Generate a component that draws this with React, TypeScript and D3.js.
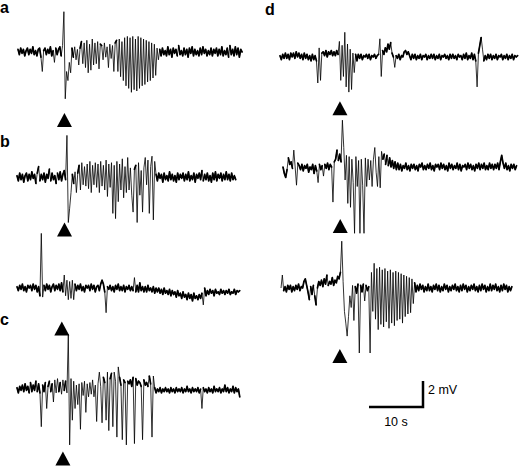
import React from 'react';
import * as d3 from 'd3';

// sample interval of every trace (s)
const DT = 0.25;

// traces, values in mV, one sample every DT seconds
const traceA = [
  0.2, -0.2, 0.3, -0.1, 0.2, -0.3, 0.1, 0.3, -0.2, 0.2,
  -0.1, 0.4, -0.2, 0.1, -0.3, 0.2, 0.3, -0.4, -1.5, 0.1,
  0.3, -0.2, 0.2, -0.1, 0.4, -0.3, 0.1, -0.8, 0.3, -0.2,
  0.2, 0.4, -0.3, 0.5,
  3.1, -3.6, -1.5, -2.2, -0.8, -1.6, 0.3, -0.4,
  0.4, -0.6, 0.2, -1.0, 0.3,
  0.8, -0.9, 0.7, -1.2, 0.9, -1.6, 0.6, -1.4, 1.0, -1.0, 0.7, -0.9, 0.8, -1.3, 0.6,
  0.5, -0.6, 0.7, -0.4, 0.4, -1.2, 0.6, -0.5, 0.5, -1.5, 0.7,
  0.9, -1.5, 1.0, -1.9, 0.8, -2.2, 1.1, -2.6, 1.2, -2.8, 1.1, -3.1, 1.2, -2.9, 1.0, -3.0,
  1.2, -2.8, 1.1, -2.6, 1.0, -2.5, 0.9, -2.3, 0.8, -2.2, 0.7, -2.0, 0.6, -1.8, 0.3, -0.6,
  0.2, -0.3, 0.3, -0.2, 0.1, -0.3, 0.4, -0.2, 0.2, -0.4,
  0.3, -0.1, 0.2, -0.3, 0.5, -0.2, 0.1, -0.3, 0.3, -0.2,
  0.2, -0.4, 0.3, -0.1, 0.4, -0.3, 0.2, -0.2, 0.1, -0.3,
  0.3, -0.2, 0.4, -0.1, 0.2, -0.3, 0.1, -0.2, 0.3, -0.3,
  0.2, -0.1, 0.3, -0.3, 0.2, -0.2, 0.4, -0.3, 0.1, -0.2,
  0.3, -0.4, 0.5, -0.2, 0.2, -0.3, 0.4, -0.2, 0.3, -0.4,
  0.2, 0.0,
];

const traceB1 = [
  0.1, -0.3, 0.3, -0.2, 0.2, -0.4, 0.1, 0.3, -0.3, 0.2,
  -0.2, 0.4, -0.1, 0.2, -0.5, 0.3, 0.8, -0.3, 0.2, -0.2,
  0.3, -0.4, 0.2, -0.1, 0.6, -0.3, 0.3, -0.2, 0.1, -0.5,
  0.3, -0.2, 0.4, -0.3, 0.2, 0.5, -0.2,
  3.2, -3.5, -2.4, -1.2, 0.2, -0.5,
  0.4, -1.2, 0.3,
  0.9, -1.0, 1.1, -0.6, 0.8, -0.7, 1.0, -0.9, 1.2, -1.2, 0.9, -0.6, 1.1, -0.8,
  1.0, -1.2, 1.2, -0.7, 0.9, -1.0, 1.3, -1.5, 1.0, -0.8, 1.1, -2.8, 0.9,
  -3.2, 1.2, -1.9, 1.0, -1.0, 1.4, -1.6, 0.8, -1.2, 1.5,
  -1.0, 0.7, -1.4, -2.7, 0.6, 0.9, -3.5, 1.1, -1.4, 0.5,
  -2.7, 0.7, 1.5, -0.6, 1.3, -2.8, 0.8, 1.6, -3.3, 1.2,
  0.2, -0.3, 0.3, -0.1, 0.2, -0.4, 0.3, -0.2, 0.1, -0.3,
  0.4, -0.2, 0.2, -0.3, 0.1, -0.4, 0.3, -0.2, 0.2, -0.1,
  0.3, -0.3, 0.2, -0.2, 0.4, -0.3, 0.1, -0.2, 0.3, -0.4,
  0.2, -0.1, 0.3, -0.2, 0.5, -0.3, 0.2, -0.2, 0.3, -0.3,
  0.1, -0.4, 0.3, -0.2, 0.4, -0.3, 0.2, -0.1, 0.3, -0.3,
  0.2, -0.2, 0.4, -0.2, 0.2, -0.3, 0.3, -0.2, 0.1, -0.2,
];

const traceB2 = [
  0.1, -0.2, 0.2, -0.1, 0.3, -0.2, 0.1, -0.3, 0.2, 0.0, 0.2, -0.2, 0.3, -0.1, 0.2, -0.3, 0.1, -0.6,
  4.2, -0.7, 0.2,
  -0.2, 0.3, -0.1, 0.2, -0.3, 0.1, 0.3, -0.2, 0.2, -0.1, 0.3, -0.2, 0.4, -0.3,
  1.0, -0.6,
  0.6, -0.9, 0.5, -0.8, 0.6, -0.9, 0.3,
  -0.2, 0.2, -0.1, 0.3, -0.2, 0.1, -0.3, 0.2, 0.0, 0.2, -0.2, 0.3, -0.1, 0.2, -0.3, 0.1, 0.2, -0.2, 0.3,
  0.6, 0.3, -0.3, -1.9, 0.1,
  -0.1, 0.2, -0.2, 0.1, -0.3, 0.2, -0.1, 0.3, -0.2, 0.1, -0.2, 0.2, -0.3, 0.1, -0.1, 0.2, -0.2, 0.1, -0.2,
  0.8, -0.3,
  0.2, -0.3, 0.4, -0.2, 0.1, -0.3,
  0.1, -0.3, 0.2, -0.2, 0.0, -0.3, 0.1, -0.4, 0.0, -0.3,
  0.0, -0.4, -0.1, -0.5, 0.0, -0.4, -0.2, -0.5, -0.1, -0.6,
  -0.2, -0.5, -0.3, -0.7, -0.2, -0.6, -0.4, -0.8, -0.3, -0.7,
  -0.5, -0.9, -0.4, -0.8, -0.5, -1.0, -0.4, -0.8, -0.6, -0.9,
  -0.5, -0.8, -0.4,
  -1.3, 0.0, -0.6,
  -0.2, -0.5, -0.1, -0.4, -0.2, -0.6, -0.1, -0.4, -0.3, -0.5, -0.1, -0.4, -0.2,
  -0.5, -0.2, -0.4, -0.1, -0.5, -0.3, -0.4, -0.1, -0.5, -0.2, -0.3, -0.2,
];

const traceC = [
  0.1, -0.3, 0.2, -0.1, 0.3, -0.2, 0.4, -0.1, 0.2, -0.3, 0.5, -0.2, 0.3, -0.1, 0.6, -0.2, 0.4, -0.3,
  -2.9, 0.3, -0.2, 0.5, -1.5, 0.2,
  0.6, -0.2, 0.4, -1.0, 0.7, -0.3,
  0.8, -0.2, 0.5, -0.4, 0.7, -0.1, 0.6, -0.3,
  4.2, -4.3, 0.8, -2.4, 0.6, -1.5, 0.3, -1.2,
  0.4, -3.1, 0.5,
  -0.5, 0.6, -1.8, 0.4, -0.6, 0.5, -0.4, 0.7, -0.6, 0.3, -2.5, 0.4, 1.3,
  0.2, -2.6, 0.9, 0.5, -2.4, 1.3, -3.2, 0.8, 1.2, -2.9,
  1.3, 0.6, -3.7, 1.7, 0.9, 0.3, -3.9, 0.7, 0.5, -4.3,
  0.6, 0.4, 0.7, 0.2, 0.9, -4.2, 0.8, 0.3, 0.6, 0.5,
  0.2, -3.9, 0.7, 0.3, 0.5, 0.2, 1.0, 0.4, -3.7, 1.0,
  0.1, -0.3, 0.0, -0.2, 0.1, -0.3, 0.0, -0.2, 0.1, -0.2,
  0.0, -0.3, 0.1, -0.2, 0.0, -0.3, 0.1, -0.2, 0.0, -0.2,
  0.1, -0.3, 0.0, -0.2, 0.2, -0.2, 0.0, -0.3, 0.1, -0.2,
  0.0, -0.2, 0.1, -0.3, 0.0, -1.5, 0.1, -0.2, 0.0, -0.3,
  0.1, -0.2, 0.0, -0.3, 0.2, -0.2, 0.0, -0.2, 0.1, -0.3,
  0.0, -0.2, 0.3, -0.2, 0.1, -0.3, 0.0, -0.2, 0.2, -0.3,
  0.1, -0.2, 0.0, -0.6,
];

const traceD1 = [
  0.1, -0.2, 0.2, -0.1, 0.3, -0.1, 0.2, -0.2, 0.3, 0.0, 0.3, -0.1, 0.4, 0.0,
  0.3, -0.1, 0.2, -0.2, 0.3, -0.1, 0.2, -0.2, 0.1, -0.3, 0.2, -0.2, 0.1, -0.3,
  -2.0, 0.7, -1.8, 0.3,
  0.4, 0.1, 0.5, 0.0, 0.4, 0.2, 0.5, 0.1, 0.4, 0.1, 0.5, 0.2,
  1.2, -1.8, 0.9, -1.5, 1.9, -2.3, 1.0, -2.7, 0.6, -2.5, 0.3, -1.2, 0.2,
  -0.3, 0.2, -0.1, 0.2, -0.2, 0.1, 0.0, 0.2, -0.1, 0.2, -0.2, 0.1, 0.0, 0.2, -0.1, 0.1,
  0.2, 1.4, -1.5, 0.5, 0.2, 0.7, 0.4, 1.0, 0.6, 1.1, 0.3, 0.0, -0.8, 0.1,
  -0.1, 0.2, -0.2, 0.1, 0.0, 0.4, 0.5, 0.2, 0.4, 0.1,
  -0.2, 0.2, -0.1, 0.2, -0.2, 0.1, -0.1, 0.2, -0.2, 0.1,
  0.0, 0.2, -0.2, 0.1, -0.1, 0.2, -0.1, 0.2, -0.2, 0.1,
  -0.1, 0.2, -0.2, 0.1, 0.0, 0.2, -0.1, 0.1, -0.2, 0.2,
  -0.1, 0.2, -0.1, 0.1, -0.2, 0.2, 0.0, 0.1, -0.2, 0.2,
  -0.1, 0.3, -0.2, 0.1, -0.1, 0.3, -0.2, 0.2, -0.3,
  -2.3, 0.3, 0.9, 1.5, 0.6, -0.3, 0.1,
  -0.2, 0.2, -0.1, 0.2, -0.2, 0.1, -0.1, 0.2, -0.2, 0.1, 0.0, 0.2,
  -0.2, 0.1, -0.1, 0.2, -0.2, 0.1, -0.1, 0.2, -0.2, 0.1, 0.0, 0.1,
];

const traceD2 = [
  0.0, -0.5, -0.8, -0.2,
  0.7, 0.2, 0.4, -0.1,
  1.3, 0.0, -1.4, 0.3,
  0.1, -0.2, 0.2, -0.3, 0.1, -0.1, 0.2, -0.4, 0.0, -0.2, 0.2, -0.5, 0.1, -0.3,
  -1.2, 0.2,
  -0.2, 0.1, -0.7, 0.2, -0.1, 0.3, -0.2, 0.2, 0.0,
  -2.7, 0.4, 0.6, 1.3, 0.5, 1.0, 0.4, 3.6, 1.5, -1.0,
  0.9, -2.8, 0.8, -3.1, 0.6, -1.2, -5.1, 0.8, -1.5, 0.5,
  -5.1, 0.6, -1.4, -5.1, 0.7, -1.5, 0.6, -1.0, 0.5, -1.5,
  0.6, 1.5, -0.4, -1.5, 0.8, -1.6, 1.2, 0.6, 1.0, 0.2,
  0.9, 0.1, 0.7, 0.0, 0.5, -0.1, 0.4, -0.2, 0.3,
  -0.2, 0.2, -0.3, 0.1, -0.1, 0.3, -0.2, 0.1, -0.3, 0.2,
  -0.1, 0.2, -0.2, 0.1, -0.3, 0.2, 0.0, 0.3, -0.2, 0.1,
  -0.2, 0.2, -0.1, 0.3, -0.2, 0.1, -0.3, 0.2, 0.0, 0.2,
  -0.2, 0.3, -0.1, 0.2, -0.2, 0.1, -0.3, 0.3, -0.1, 0.2,
  -0.2, 0.1, -0.1, 0.3, -0.2, 0.2, -0.3, 0.1, 0.0, 0.2,
  -0.2, 0.3, -0.1, 0.2, -0.2, 0.1, -0.3, 0.2, -0.1, 0.3,
  -0.2, 0.2, -0.1, 0.3, -0.2, 0.1, -0.2, 0.3, -0.1, 0.2,
  -0.2, 0.2, -0.1, 0.3, -0.2, 0.4, 0.9, 0.3, -0.1, 0.3,
  -0.2, 0.1, -0.3, 0.2, -0.1, 0.2, -0.2, 0.1,
];

const traceD3 = [
  0.0, 1.0, -0.2,
  0.1, -0.3, 0.2, -0.1, 0.2, -0.3, 0.1, -0.2, 0.2, -0.1, 0.3, -0.2, 0.1, 0.0,
  0.5, 0.7, 0.2, -0.3,
  -0.9, 0.1, -0.5, 0.2, -0.6, -1.3, 0.0,
  0.5, 0.2, 0.6, 0.1, 0.7, 0.3, 1.0, 0.2, 0.5, 0.3, 0.8, 0.2, 0.6, 0.4, 0.9, 0.7, 1.2,
  3.6, 0.5, -1.8, -2.7, -3.7, -2.2, -0.6, -1.5, 0.2, -2.5, 0.1,
  -0.4, 0.3, -5.0, 0.2, -0.3, 0.3, -1.0, 0.2, -0.2, 0.1, -5.0,
  1.2, -1.8, 1.9, -2.4, 1.5, -3.2, 1.6, -2.8, 1.4, -3.0, 1.5, -2.6, 1.3, -3.1, 1.4, -2.7, 1.2,
  -2.9, 1.3, -2.5, 1.2, -2.4, 1.1, -2.7, 1.0, -2.2, 0.9, -2.0, 0.8, -1.9, 0.7, -1.2, 0.4, -0.3,
  0.2, -0.2, 0.3, -0.1, 0.2, -0.3, 0.1, -0.2, 0.3, -0.2,
  0.1, -0.3, 0.2, -0.1, 0.3, -0.2, 0.2, -0.3, 0.1, -0.2,
  0.3, -0.1, 0.2, -0.3, 0.1, -0.2, 0.2, -0.1, 0.3, -0.2,
  0.1, -0.3, 0.2, -0.2, 0.3, -0.1, 0.2, -0.3, 0.1, -0.2,
  0.2, -0.1, 0.3, -0.2, 0.1, -0.3, 0.2, -0.2, 0.3, -0.1,
  0.2, -0.3, 0.1, -0.2, 0.3, -0.2, 0.2, -0.1, 0.3, -0.2,
  0.1, -0.3, 0.2, -0.2, 0.3, -0.1, 0.2, -0.3, 0.1, -0.2,
  0.1,
];

// onset markers: time (s) on the trace and level (mV) of the triangle tip
const markerTrace = ['a', 'b1', 'c', 'c', 'd1', 'd2', 'd3'];
const markerTimes = [8.6, 8.8, 8.3, 8.5, 11.1, 10.6, 10.9];
const markerLevels = [-4.7, -3.5, 5.2, -4.8, -3.4, -4.0, -4.7];

// scale bar
const barSeconds = 10;
const barMillivolts = 2;

// layout: left edge and baseline of each trace in the page
const layout: Record<string, { data: number[]; x: number; y: number }> = {
  a: { data: traceA, x: 18, y: 52 },
  b1: { data: traceB1, x: 17, y: 177 },
  b2: { data: traceB2, x: 17, y: 288 },
  c: { data: traceC, x: 17, y: 389 },
  d1: { data: traceD1, x: 280, y: 57 },
  d2: { data: traceD2, x: 283, y: 167 },
  d3: { data: traceD3, x: 281, y: 288 },
};

const panelLabels = [
  { text: 'a', x: 0, y: 13 },
  { text: 'b', x: 0, y: 147 },
  { text: 'c', x: 0, y: 325 },
  { text: 'd', x: 265, y: 15 },
];

const font = '"Liberation Sans", Arial, Helvetica, sans-serif';

// steps smaller than this (mV) belong to the background noise, drawn heavier
const QUIET_STEP = 0.75;

export default function App() {
  const x = d3.scaleLinear().domain([0, 10]).range([0, 54]);
  const y = d3.scaleLinear().domain([0, 2]).range([0, -26]);

  const line = d3
    .line<number>()
    .x((_, i) => x(i * DT))
    .y((d) => y(d));

  // background noise: only the small steps, as separate segments
  const quiet = (data: number[]) => {
    const p = d3.path();
    for (let i = 0; i < data.length - 1; i++) {
      if (Math.abs(data[i + 1] - data[i]) <= QUIET_STEP && Math.abs(data[i]) < 1.1) {
        p.moveTo(x(i * DT), y(data[i]));
        p.lineTo(x((i + 1) * DT), y(data[i + 1]));
      }
    }
    return p.toString();
  };

  const tri = (cx: number, cy: number) =>
    `M${cx},${cy}L${cx + 7.5},${cy + 14}L${cx - 7.5},${cy + 14}Z`;

  const barX = 423;
  const barY = 407;

  return (
    <svg
      width={519}
      height={466}
      style={{ position: 'absolute', left: 0, top: 0, background: '#fff' }}
    >
      <rect width={519} height={466} fill="#fff" />
      {Object.entries(layout).map(([key, t]) => (
        <g key={key} transform={`translate(${t.x},${t.y})`}>
          <path
            d={quiet(t.data)}
            fill="none"
            stroke="#000"
            strokeWidth={1.7}
            strokeLinecap="round"
          />
          <path
            d={line(t.data) ?? ''}
            fill="none"
            stroke="#000"
            strokeWidth={0.8}
            strokeLinejoin="round"
          />
        </g>
      ))}
      {markerTrace.map((k, i) => {
        const t = layout[k];
        return (
          <path
            key={i}
            d={tri(t.x + x(markerTimes[i]), t.y + y(markerLevels[i]))}
            fill="#000"
          />
        );
      })}
      {panelLabels.map((l) => (
        <text
          key={l.text}
          x={l.x}
          y={l.y}
          fontFamily={font}
          fontWeight="bold"
          fontSize={16}
        >
          {l.text}
        </text>
      ))}
      <path
        d={`M${barX - x(barSeconds)},${barY}H${barX}V${barY + y(barMillivolts)}`}
        fill="none"
        stroke="#000"
        strokeWidth={2.5}
      />
      <text x={barX + 5} y={394} fontFamily={font} fontSize={12.5}>
        2 mV
      </text>
      <text
        x={barX - x(barSeconds) / 2}
        y={426}
        fontFamily={font}
        fontSize={12.5}
        textAnchor="middle"
      >
        10 s
      </text>
    </svg>
  );
}
